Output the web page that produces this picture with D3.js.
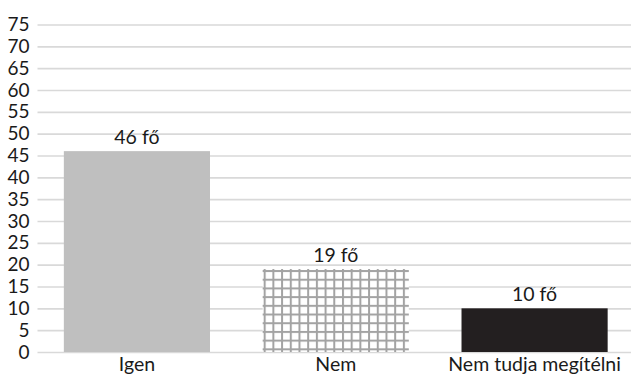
<!DOCTYPE html>
<html>
<head>
<meta charset="utf-8">
<script src="https://cdn.jsdelivr.net/npm/d3@7"></script>
<style>
  html, body { margin: 0; padding: 0; background: #fff; }
  svg { display: block; font-family: Lato, "Open Sans", sans-serif; }
</style>
</head>
<body>
<svg id="chart" width="631" height="376"></svg>
<script>
// Answers and head counts
const categories = ["Igen", "Nem", "Nem tudja megítélni"];
const values = [46, 19, 10];
const valueLabels = ["46 fő", "19 fő", "10 fő"];
const yTicks = [0, 5, 10, 15, 20, 25, 30, 35, 40, 45, 50, 55, 60, 65, 70, 75];

const width = 631, height = 376;
const margin = { top: 24.5, right: -3, bottom: 24, left: 37.5 };

const svg = d3.select("#chart");

const x = d3.scaleBand()
  .domain(categories)
  .range([margin.left, width - margin.right])
  .paddingInner(0.265)
  .paddingOuter(0.1325);

const y = d3.scaleLinear()
  .domain([0, 75])
  .range([height - margin.bottom, margin.top]);

// Grid-hatch pattern for the middle bar
const defs = svg.append("defs");
const pat = defs.append("pattern")
  .attr("id", "mesh")
  .attr("patternUnits", "userSpaceOnUse")
  .attr("width", 8.7).attr("height", 8.7)
  .attr("x", x("Nem") + 1).attr("y", y(19) + 1);
pat.append("rect").attr("width", 8.7).attr("height", 8.7).attr("fill", "#fff");
pat.append("rect").attr("x", 0).attr("y", 0).attr("width", 2).attr("height", 8.7).attr("fill", "#a3a3a3");
pat.append("rect").attr("x", 0).attr("y", 0).attr("width", 8.7).attr("height", 2).attr("fill", "#a3a3a3");

// Horizontal gridlines and tick labels
const yAxis = d3.axisLeft(y)
  .tickValues(yTicks)
  .tickSize(-(width - margin.left))
  .tickPadding(8)
  .tickFormat(d3.format("d"));

const gy = svg.append("g")
  .attr("transform", `translate(${margin.left},0)`)
  .call(yAxis);
gy.select(".domain").remove();
gy.selectAll(".tick line").attr("stroke", "#d9d9d9").attr("stroke-width", 1.6);
gy.selectAll(".tick text")
  .attr("fill", "#1a1a1a")
  .attr("font-size", 19)
  .attr("font-family", "Lato, sans-serif");

// Bars
const fills = ["#bfbfbf", "url(#mesh)", "#231f20"];
svg.append("g")
  .selectAll("rect")
  .data(values)
  .join("rect")
  .attr("x", (d, i) => x(categories[i]))
  .attr("y", d => y(d))
  .attr("width", x.bandwidth())
  .attr("height", d => y(0) - y(d))
  .attr("fill", (d, i) => fills[i]);

// Value labels above bars
svg.append("g")
  .selectAll("text")
  .data(values)
  .join("text")
  .attr("x", (d, i) => x(categories[i]) + x.bandwidth() / 2)
  .attr("y", d => y(d) - 7.5)
  .attr("text-anchor", "middle")
  .attr("font-size", 19.5)
  .attr("fill", "#1a1a1a")
  .text((d, i) => valueLabels[i]);

// Category labels
const xAxis = d3.axisBottom(x).tickSize(0).tickPadding(5);
const gx = svg.append("g")
  .attr("transform", `translate(0,${y(0)})`)
  .call(xAxis);
gx.select(".domain").remove();
gx.selectAll(".tick text")
  .attr("fill", "#1a1a1a")
  .attr("font-size", 19.5)
  .attr("font-family", "Lato, sans-serif");
</script>
</body>
</html>
